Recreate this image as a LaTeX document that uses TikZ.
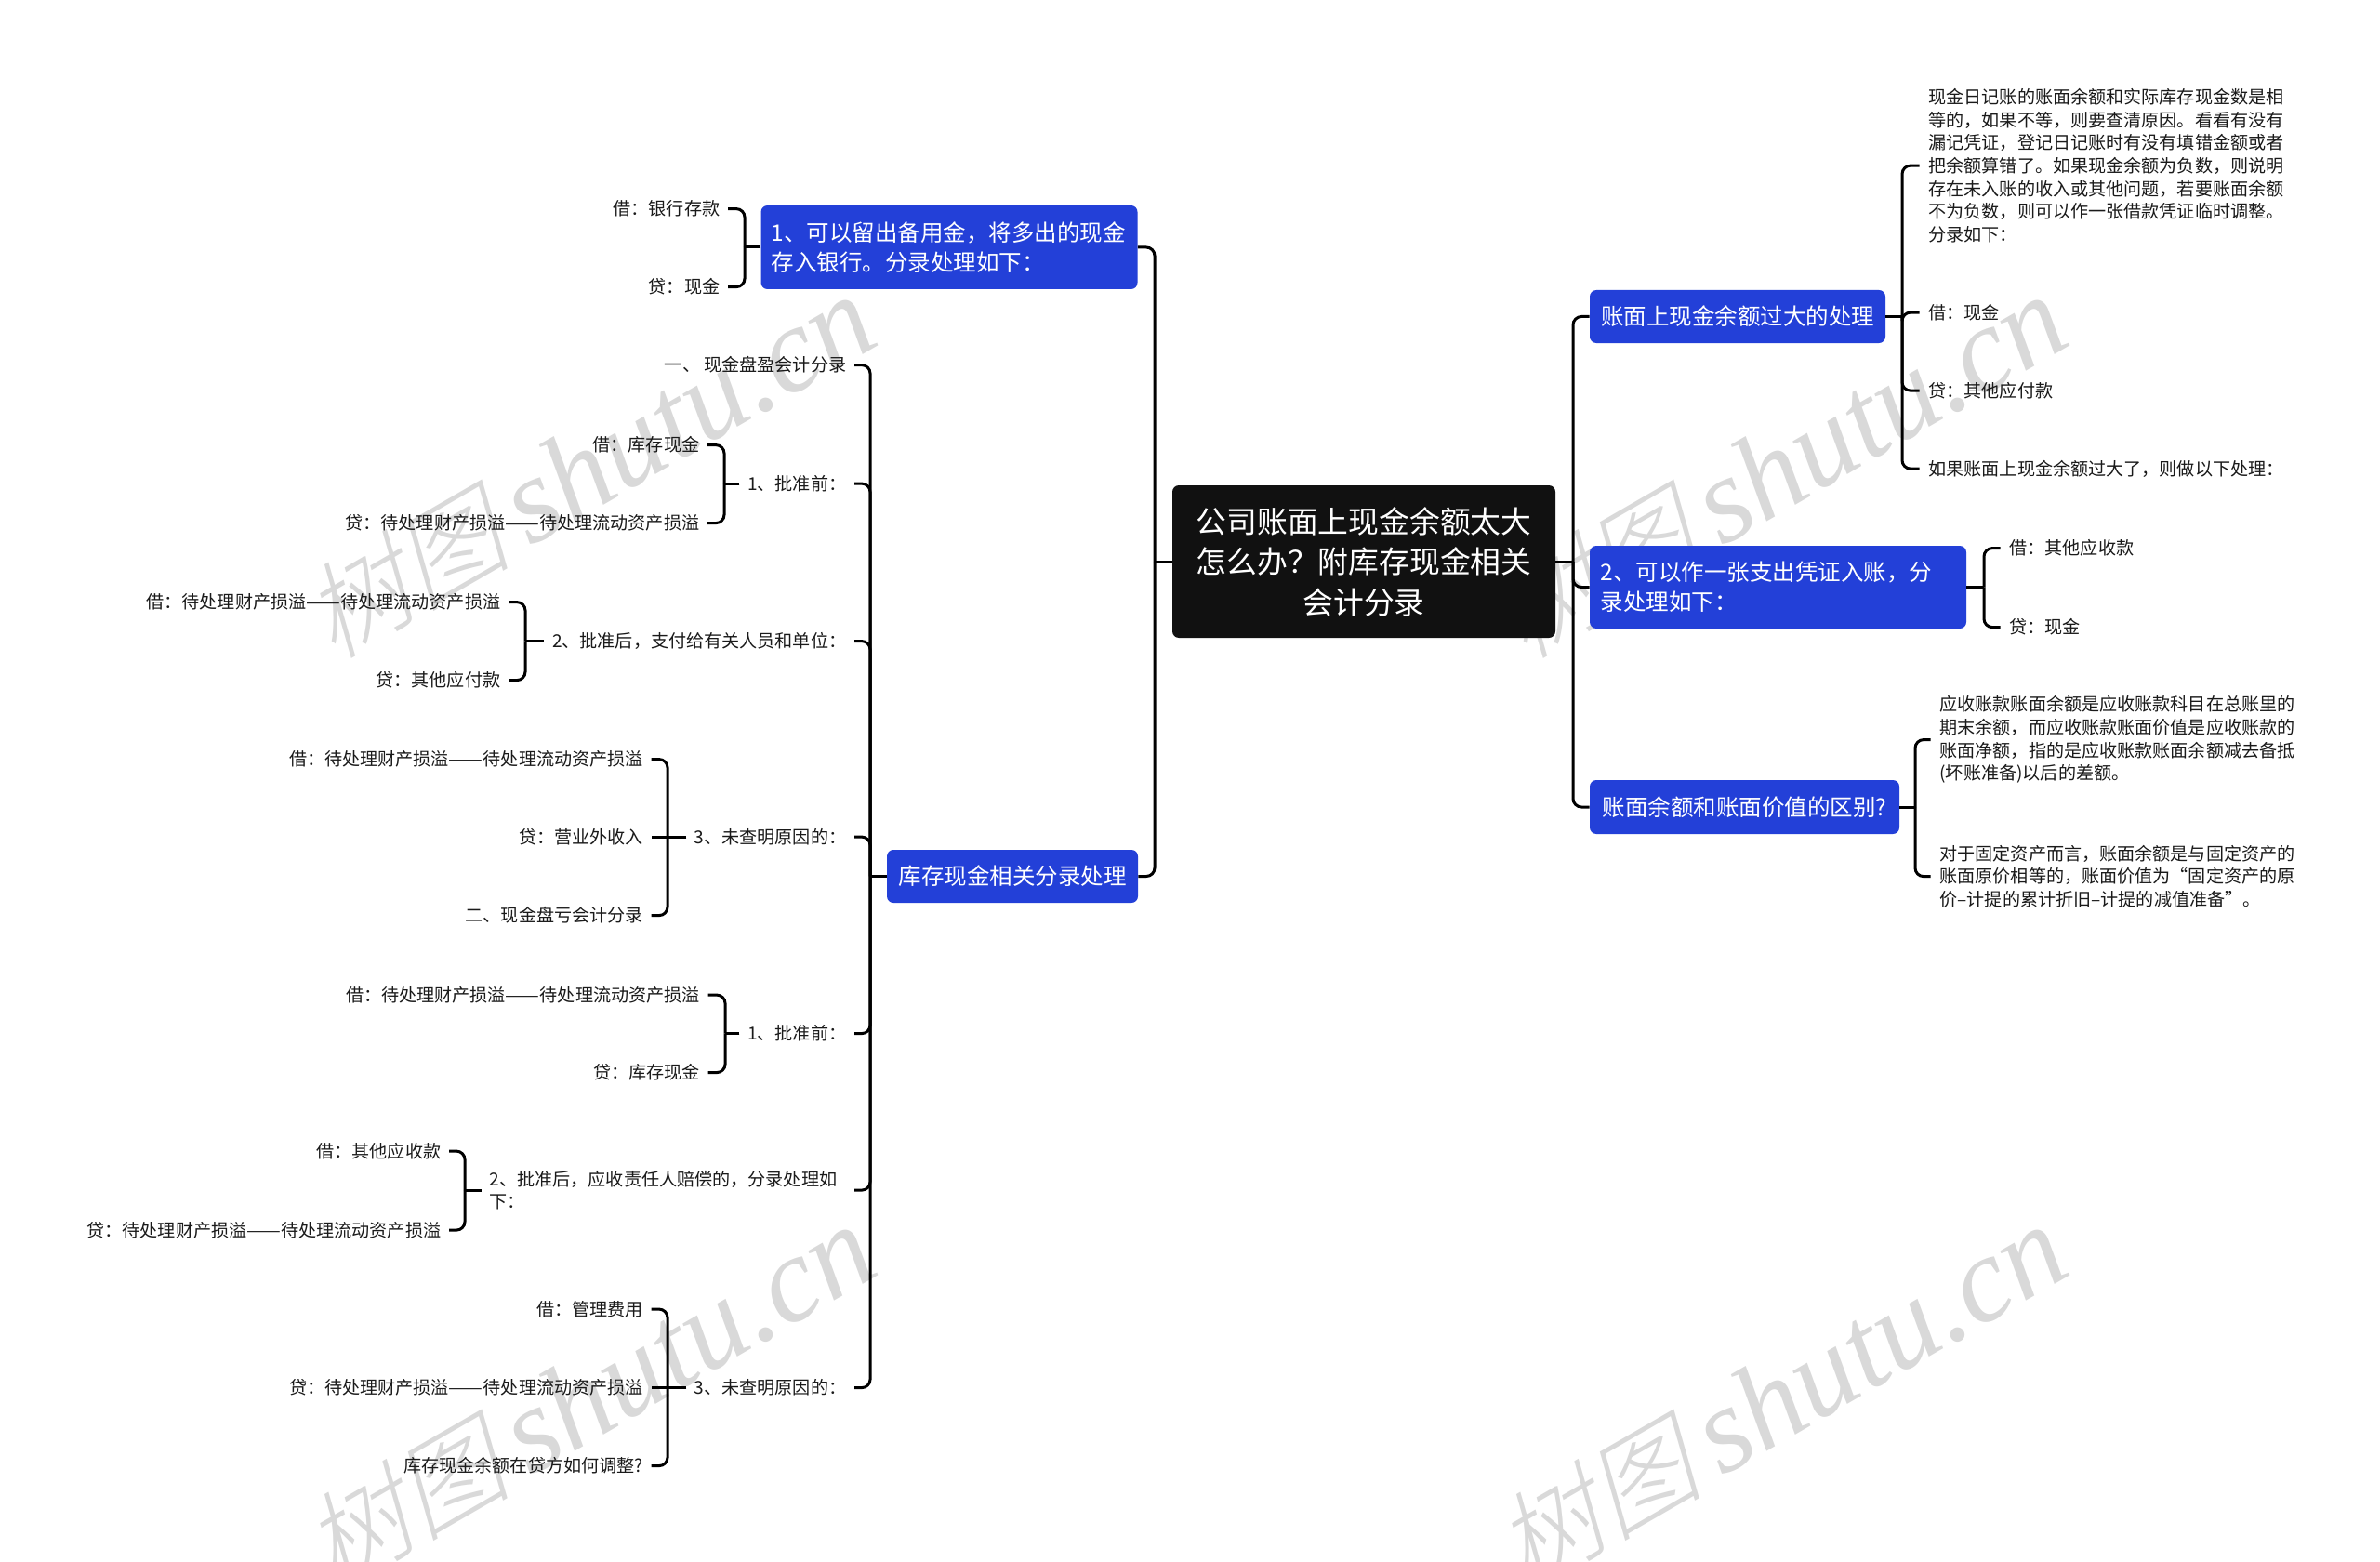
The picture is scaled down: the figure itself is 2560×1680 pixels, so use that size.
\documentclass[tikz,border=0pt]{standalone}
\usepackage{fontspec}
\setmainfont{Noto Sans CJK SC}
\newfontfamily\wmcjk{Noto Sans CJK SC Light}[FakeSlant=0.25,Scale=0.92]
\newfontfamily\wmlat{Liberation Serif}[Scale=1.07]
\definecolor{bluebox}{HTML}{2340D8}
\definecolor{darkbox}{HTML}{111111}
\definecolor{inkc}{HTML}{1A1A1A}
\definecolor{wmc}{HTML}{D9D9D9}
\tikzset{
  rootbox/.style={fill=darkbox,rounded corners=3.5pt,text=white,font=\fontsize{16.4}{21.75}\selectfont,align=center,minimum width=206pt,minimum height=82pt,inner sep=0pt},
  topicbox/.style={fill=bluebox,rounded corners=3.5pt,text=white,font=\fontsize{12.25}{16}\selectfont,align=left,inner sep=0pt},
  leafr/.style={anchor=east,text=inkc,font=\fontsize{9.55}{12.35}\selectfont,align=left,inner xsep=4.2pt,inner ysep=0pt,yshift=-0.3pt},
  leafl/.style={anchor=west,text=inkc,font=\fontsize{9.55}{12.35}\selectfont,align=left,inner xsep=4.8pt,inner ysep=0pt,yshift=-0.3pt},
  conn/.style={draw=black,line width=1.5pt,rounded corners=4.5pt},
  wm/.style={text=wmc,rotate=30,inner sep=0pt,font=\fontsize{61}{61}\selectfont},
}
\newcommand{\wmtext}{{\wmcjk 树图}\,{\wmlat\itshape shutu.cn}}
\newcommand{\ldash}{\scalebox{1.15}[1]{——}}
\newcommand{\cbr}[3]{\draw[conn] (#1) -- (#2 |- #1); \draw[conn] (#2 |- #1) -- (#2 |- #3) -- (#3);}
\begin{document}
\begin{tikzpicture}[x=0.5pt,y=-0.5pt]
\useasboundingbox (0,0) rectangle (2560,1680);
\fill[white] (0,0) rectangle (2560,1680);
% watermarks, under everything, clipped by the page
\begin{scope}
\clip (0,0) rectangle (2560,1680);
\node[wm] (w1) at (633,503) {\wmtext};
\node[wm] (w2) at (1915,503) {\wmtext};
\node[wm] (w3) at (633,1503) {\wmtext};
\node[wm] (w4) at (1915,1503) {\wmtext};
\end{scope}
% bar positions
\coordinate (xL) at (1242,0);
\coordinate (xR) at (1692,0);
\coordinate (xA) at (801,0);
\coordinate (xT) at (936,0);
\coordinate (xg1) at (779,0);
\coordinate (xg2) at (565,0);
\coordinate (xg3) at (718,0);
\coordinate (xg4) at (780,0);
\coordinate (xg5) at (500,0);
\coordinate (xg6) at (718,0);
\coordinate (xr1) at (2046,0);
\coordinate (xr2) at (2134,0);
\coordinate (xr3) at (2060,0);
% main nodes
\node[rootbox] (root) at (1467,604) {公司账面上现金余额太大\\怎么办？附库存现金相关\\会计分录};
\node[topicbox,minimum width=202.5pt,minimum height=45pt,text width=191.5pt] (b1) at (1021,266) {1、可以留出备用金，将多出的现金\\存入银行。分录处理如下：};
\node[topicbox,minimum width=135pt,minimum height=28.5pt,align=center] (b2) at (1089,942.5) {库存现金相关分录处理};
\node[topicbox,minimum width=159pt,minimum height=28.5pt,align=center] (b3) at (1869,340.5) {账面上现金余额过大的处理};
\node[topicbox,minimum width=202.5pt,minimum height=44.5pt,text width=191pt] (b4) at (1912.5,631.5) {2、可以作一张支出凭证入账，分\\录处理如下：};
\node[topicbox,minimum width=166.5pt,minimum height=29pt,align=center] (b5) at (1876.5,868) {账面余额和账面价值的区别?};
% blue 1 leaves
\node[leafr] (a1) at (783,224) {借：银行存款};
\node[leafr] (a2) at (783,308) {贷：现金};
% second level left
\node[leafr] (t1) at (919,392) {一、 现金盘盈会计分录};
\node[leafr] (t2) at (919,519.5) {1、批准前：};
\node[leafr] (t3) at (919,689) {2、批准后，支付给有关人员和单位：};
\node[leafr] (t4) at (919,899.5) {3、未查明原因的：};
\node[leafr] (t5) at (919,1111) {1、批准前：};
\node[leafr] (t6) at (919,1279.5) {2、批准后，应收责任人赔偿的，分录处理如\hspace{5pt}\mbox{}\\下：};
\node[leafr] (t7) at (919,1492) {3、未查明原因的：};
% third level left
\node[leafr] (c1) at (761,478) {借：库存现金};
\node[leafr] (c2) at (761,562) {贷：待处理财产损溢\ldash{}待处理流动资产损溢};
\node[leafr] (d1) at (547,647) {借：待处理财产损溢\ldash{}待处理流动资产损溢};
\node[leafr] (d2) at (547,731) {贷：其他应付款};
\node[leafr] (e1) at (700.5,816) {借：待处理财产损溢\ldash{}待处理流动资产损溢};
\node[leafr] (e2) at (700.5,899.5) {贷：营业外收入};
\node[leafr] (e3) at (700.5,984) {二、现金盘亏会计分录};
\node[leafr] (f1) at (761.5,1069.5) {借：待处理财产损溢\ldash{}待处理流动资产损溢};
\node[leafr] (f2) at (761.5,1153) {贷：库存现金};
\node[leafr] (g1) at (483,1237.5) {借：其他应收款};
\node[leafr] (g2) at (483,1322.5) {贷：待处理财产损溢\ldash{}待处理流动资产损溢};
\node[leafr] (h1) at (700.5,1407.5) {借：管理费用};
\node[leafr] (h2) at (700.5,1492) {贷：待处理财产损溢\ldash{}待处理流动资产损溢};
\node[leafr] (h3) at (700.5,1576) {库存现金余额在贷方如何调整?};
% right leaves
\node[leafl] (r1) at (2064.5,177.5) {现金日记账的账面余额和实际库存现金数是相\\等的，如果不等，则要查清原因。看看有没有\\漏记凭证，登记日记账时有没有填错金额或者\\把余额算错了。如果现金余额为负数，则说明\\存在未入账的收入或其他问题，若要账面余额\\不为负数，则可以作一张借款凭证临时调整。\\分录如下：};
\node[leafl] (r2) at (2064.5,335.5) {借：现金};
\node[leafl] (r3) at (2064.5,419.5) {贷：其他应付款};
\node[leafl] (r4) at (2064.5,503.5) {如果账面上现金余额过大了，则做以下处理：};
\node[leafl] (s1) at (2151.5,589) {借：其他应收款};
\node[leafl] (s2) at (2151.5,674) {贷：现金};
\node[leafl] (u1) at (2076.5,795) {应收账款账面余额是应收账款科目在总账里的\\期末余额，而应收账款账面价值是应收账款的\\账面净额，指的是应收账款账面余额减去备抵\\(坏账准备)以后的差额。};
\node[leafl] (u2) at (2076.5,942) {对于固定资产而言，账面余额是与固定资产的\\账面原价相等的，账面价值为“固定资产的原\\价–计提的累计折旧–计提的减值准备”。};
% connectors: root
\cbr{root.west}{xL}{b1.east}
\cbr{root.west}{xL}{b2.east}
\cbr{root.east}{xR}{b3.west}
\cbr{root.east}{xR}{b4.west}
\cbr{root.east}{xR}{b5.west}
% b1
\cbr{b1.west}{xA}{a1.east}
\cbr{b1.west}{xA}{a2.east}
% b2 trunk
\foreach \n in {t1,t2,t3,t4,t5,t6,t7}{\cbr{b2.west}{xT}{\n.east}}
% level 3
\cbr{t2.west}{xg1}{c1.east}
\cbr{t2.west}{xg1}{c2.east}
\cbr{t3.west}{xg2}{d1.east}
\cbr{t3.west}{xg2}{d2.east}
\cbr{t4.west}{xg3}{e1.east}
\draw[conn] (t4.west) -- (e2.east);
\cbr{t4.west}{xg3}{e3.east}
\cbr{t5.west}{xg4}{f1.east}
\cbr{t5.west}{xg4}{f2.east}
\cbr{t6.west}{xg5}{g1.east}
\cbr{t6.west}{xg5}{g2.east}
\cbr{t7.west}{xg6}{h1.east}
\draw[conn] (t7.west) -- (h2.east);
\cbr{t7.west}{xg6}{h3.east}
% right
\foreach \n in {r1,r2,r3,r4}{\cbr{b3.east}{xr1}{\n.west}}
\cbr{b4.east}{xr2}{s1.west}
\cbr{b4.east}{xr2}{s2.west}
\cbr{b5.east}{xr3}{u1.west}
\cbr{b5.east}{xr3}{u2.west}
\end{tikzpicture}
\end{document}
